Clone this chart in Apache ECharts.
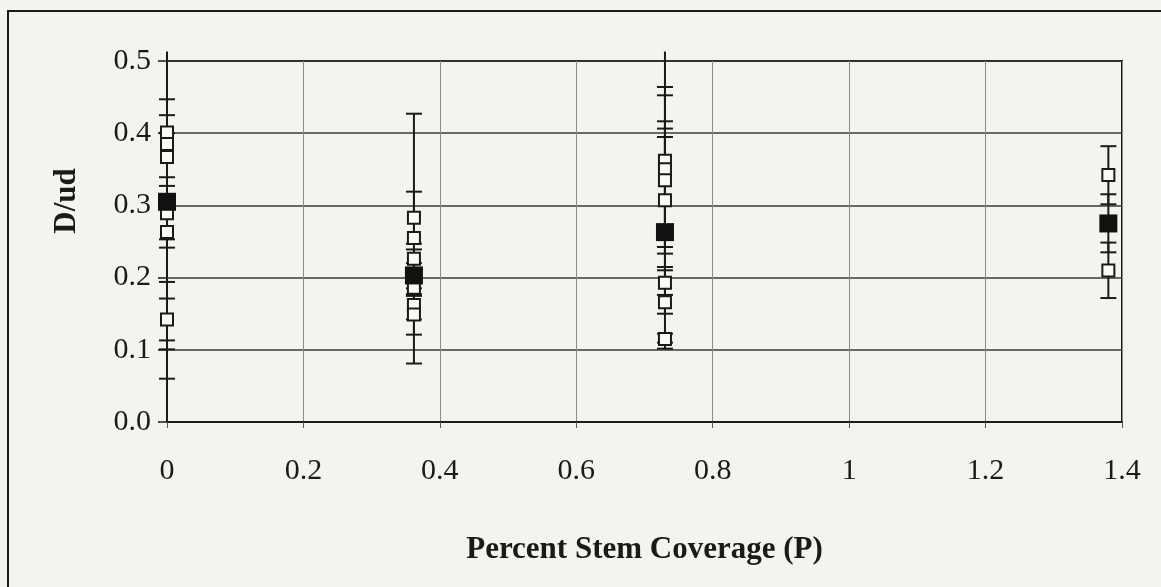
<!DOCTYPE html>
<html>
<head>
<meta charset="utf-8">
<script src="https://cdn.jsdelivr.net/npm/echarts@6/dist/echarts.min.js"></script>
<style>
  html, body { margin: 0; padding: 0; background: #f4f4ee; }
  #chart { width: 1161px; height: 587px; }
</style>
</head>
<body>
<div id="chart"></div>
<script>
// Individual runs: stem coverage P, D/ud, and the low/high ends of each error bar
const runP    = [0, 0, 0, 0, 0, 0,
                 0.362, 0.362, 0.362, 0.362, 0.362, 0.362,
                 0.73, 0.73, 0.73, 0.73, 0.73, 0.73, 0.73,
                 1.38, 1.38];
const runD    = [0.401, 0.385, 0.367, 0.289, 0.263, 0.142,
                 0.283, 0.255, 0.226, 0.186, 0.162, 0.149,
                 0.362, 0.350, 0.335, 0.307, 0.193, 0.166, 0.115,
                 0.342, 0.210];
const runLow  = [0.2415, 0.339, 0.253, 0.194, 0.1006, 0.113,
                 0.247, 0.081, 0.213, 0.175, 0.142, 0.121,
                 0.26, 0.2424, 0.2332, 0.2147, 0.176, 0.15, 0.1016,
                 0.3015, 0.1717];
const runHigh = [0.447, 0.425, 0.40, 0.327, 0.30, 0.171,
                 0.319, 0.427, 0.239, 0.20, 0.175, 0.177,
                 0.464, 0.4525, 0.4165, 0.4064, 0.2101, 0.3947, 0.1224,
                 0.382, 0.2485];

// Mean D/ud for each coverage level
const meanP    = [0, 0.362, 0.73, 1.38];
const meanD    = [0.305, 0.203, 0.263, 0.275];
const meanLow  = [0.060, 0.185, 0.11, 0.235];
const meanHigh = [0.513, 0.22, 0.513, 0.3154];

// Axis ranges and tick labels
const xTicks = [0, 0.2, 0.4, 0.6, 0.8, 1, 1.2, 1.4];
const yTicks = ['0.0', '0.1', '0.2', '0.3', '0.4', '0.5'];

const X_MIN = 0, X_MAX = 1.4, Y_MIN = 0, Y_MAX = 0.5;
const FONT = '"Liberation Serif", "Times New Roman", serif';
const INK = '#1a1a1a';

const runPoints = runP.map((p, i) => [p, runD[i]]);
const meanPoints = meanP.map((p, i) => [p, meanD[i]]);
const errorBars = runP.map((p, i) => [p, runLow[i], runHigh[i]])
  .concat(meanP.map((p, i) => [p, meanLow[i], meanHigh[i]]));

function renderErrorBar(params, api) {
  const x = api.value(0), lo = api.value(1), hi = api.value(2);
  const a = api.coord([x, lo]);
  const b = api.coord([x, hi]);
  const half = 8;
  const style = { stroke: INK, lineWidth: 2 };
  const children = [{
    type: 'line', shape: { x1: a[0], y1: a[1], x2: b[0], y2: b[1] }, style: style
  }];
  [[lo, a], [hi, b]].forEach(([v, pt]) => {
    if (v >= Y_MIN && v <= Y_MAX) {
      children.push({
        type: 'line',
        shape: { x1: pt[0] - half, y1: pt[1], x2: pt[0] + half, y2: pt[1] },
        style: style
      });
    }
  });
  return { type: 'group', children: children };
}

const chart = echarts.init(document.getElementById('chart'), null, { renderer: 'canvas' });

chart.setOption({
  backgroundColor: '#f4f4ee',
  animation: false,
  grid: {
    left: 167, right: 39, top: 61, bottom: 165,
    show: true, borderColor: INK, borderWidth: 2, backgroundColor: 'transparent'
  },
  xAxis: {
    type: 'value', min: X_MIN, max: X_MAX, interval: 0.2,
    name: 'Percent Stem Coverage (P)',
    nameLocation: 'middle', nameGap: 112,
    nameTextStyle: { fontFamily: FONT, fontSize: 31, fontWeight: 'bold', color: INK },
    axisLine: { show: true, onZero: false, lineStyle: { color: INK, width: 2 } },
    axisTick: { show: true, inside: false, length: 6, lineStyle: { color: '#555', width: 1 } },
    axisLabel: {
      fontFamily: FONT, fontSize: 30, color: INK, margin: 34,
      formatter: v => String(xTicks.find(t => Math.abs(t - v) < 1e-9) ?? v)
    },
    splitLine: { show: true, lineStyle: { color: '#8a8a8a', width: 1 } }
  },
  yAxis: {
    type: 'value', min: Y_MIN, max: Y_MAX, interval: 0.1,
    axisLine: { show: true, onZero: false, lineStyle: { color: INK, width: 2 } },
    axisTick: { show: true, inside: false, length: 9, lineStyle: { color: INK, width: 1.5 } },
    axisLabel: {
      fontFamily: FONT, fontSize: 30, color: INK, margin: 16,
      formatter: v => yTicks[Math.round(v * 10)]
    },
    splitLine: { show: true, lineStyle: { color: '#3a3a3a', width: 1.5 } }
  },
  graphic: [
    {
      type: 'rect', silent: true, z: -1,
      shape: { x: 8, y: 11, width: 1300, height: 800 },
      style: { fill: 'none', stroke: INK, lineWidth: 2 }
    },
    {
      type: 'text', x: 67, y: 201, rotation: Math.PI / 2,
      style: {
        text: 'D/ud', fill: INK,
        font: 'bold 31px ' + FONT,
        textAlign: 'center', textVerticalAlign: 'middle'
      }
    }
  ],
  series: [
    {
      type: 'custom', name: 'error', z: 3,
      renderItem: renderErrorBar,
      data: errorBars,
      encode: { x: 0, y: [1, 2] },
      clip: false
    },
    {
      type: 'scatter', name: 'runs', z: 4,
      symbol: 'rect', symbolSize: 12,
      itemStyle: { color: '#fbfbf6', borderColor: INK, borderWidth: 2, opacity: 1 },
      data: runPoints
    },
    {
      type: 'scatter', name: 'mean', z: 5,
      symbol: 'rect', symbolSize: 18,
      itemStyle: { color: '#111', opacity: 1 },
      data: meanPoints
    }
  ]
});
</script>
</body>
</html>
